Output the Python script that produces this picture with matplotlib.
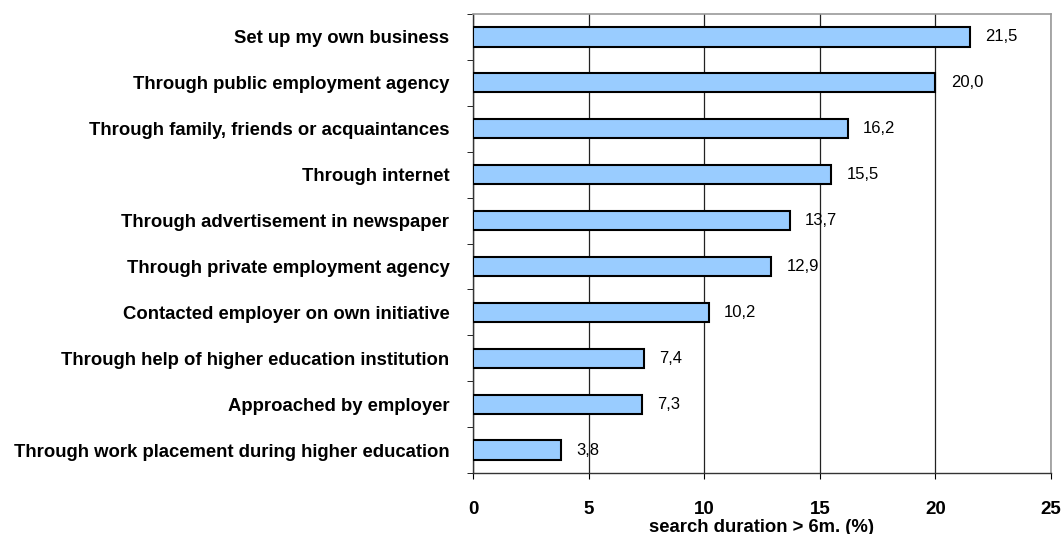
import matplotlib.pyplot as plt

plt.rcParams['font.family'] = ['Liberation Sans', 'DejaVu Sans']

categories = [
    'Set up my own business',
    'Through public employment agency',
    'Through family, friends or acquaintances',
    'Through internet',
    'Through advertisement in newspaper',
    'Through private employment agency',
    'Contacted employer on own initiative',
    'Through help of higher education institution',
    'Approached by employer',
    'Through work placement during higher education',
]
values = [21.5, 20.0, 16.2, 15.5, 13.7, 12.9, 10.2, 7.4, 7.3, 3.8]
xticks = [0, 5, 10, 15, 20, 25]

fig = plt.figure(figsize=(10.62, 5.34), dpi=100)
ax = fig.add_axes([0.4454, 0.1142, 0.5442, 0.8596])

pos = list(range(len(categories)))
ax.barh(pos, values, height=0.42, color='#99ccff', edgecolor='black',
        linewidth=1.5, zorder=3)

for y, v in zip(pos, values):
    label = f'{v:.1f}'.replace('.', ',')
    ax.annotate(label, (v, y), xytext=(11, 0), textcoords='offset points',
                va='center', ha='left', fontsize=12)

ax.set_xlim(0, 25)
ax.set_ylim(len(categories) - 0.5, -0.5)
ax.set_xticks(xticks)
ax.set_xticklabels([str(t) for t in xticks], fontweight='bold', fontsize=13.5)
ax.set_yticks(pos)
ax.set_yticklabels(categories, fontweight='bold', fontsize=13.3)
ax.set_xlabel('search duration > 6m. (%)', fontweight='bold', fontsize=13.3,
              va='center')
ax.xaxis.set_label_coords(0.5, -0.118)

# ticks sit between categories on the y axis
ax.set_yticks([p + 0.5 for p in range(-1, len(categories))], minor=True)
ax.tick_params(axis='y', which='major', length=0, pad=17)
ax.tick_params(axis='y', which='minor', length=4, direction='out')
ax.tick_params(axis='x', length=4, direction='out', pad=16)

ax.grid(axis='x', color='#222222', linewidth=0.9, zorder=0)
for side in ['top', 'right']:
    ax.spines[side].set_color('#999999')
    ax.spines[side].set_linewidth(1.2)
for side in ['left', 'bottom']:
    ax.spines[side].set_color('#333333')
    ax.spines[side].set_linewidth(1.0)

fig.savefig('out.png', dpi=100)
